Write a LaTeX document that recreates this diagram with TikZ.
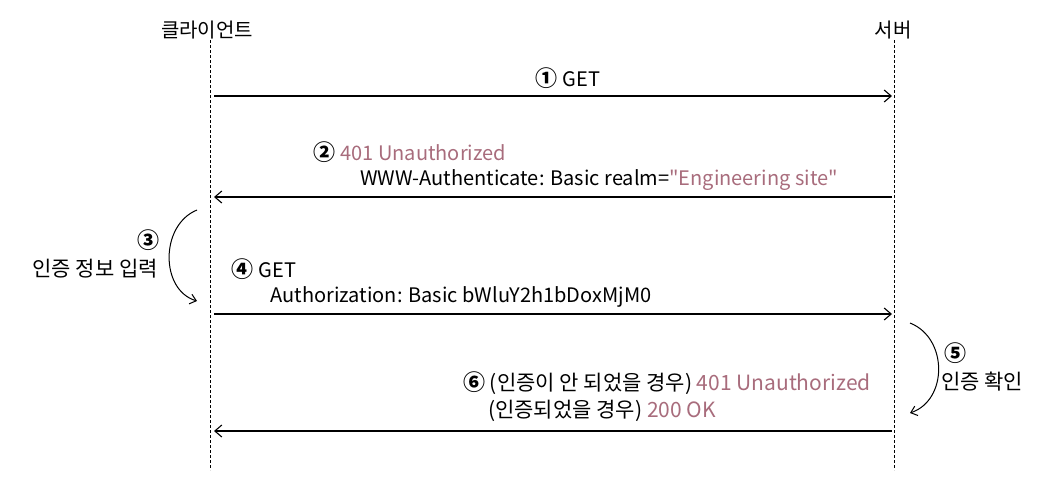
\documentclass[tikz,border=0pt]{standalone}
\usepackage{fontspec}
\setmainfont{Noto Sans CJK KR}[Ligatures=TeXOff]
\usetikzlibrary{arrows.meta}
\definecolor{pinkt}{RGB}{168,108,124}
\newcommand{\cn}[1]{{\fontsize{22}{24}\selectfont\bfseries #1}}
\begin{document}
\begin{tikzpicture}[x=1pt,y=-1pt,
  life/.style={line width=1pt,dash pattern=on 3pt off 2pt},
  msg/.style={line width=1.1pt,-{Straight Barb[length=7pt,width=12pt]}},
  lbl/.style={font=\fontsize{20}{24}\selectfont,inner sep=0pt},
  curv/.style={line width=1pt,-{Straight Barb[length=6pt,width=10pt]}}]
\useasboundingbox (0,0) rectangle (1064,498);
\node[lbl] (cl) at (207,30) {클라이언트};
\node[lbl] (sv) at (893,30) {서버};
\coordinate (ct) at (210,40); \coordinate (cb) at (210,470);
\coordinate (st) at (894,40); \coordinate (sb) at (894,470);
\draw[life] (ct) -- (cb);
\draw[life] (st) -- (sb);
% 1
\coordinate (a1s) at (214,96); \coordinate (a1e) at (892,96);
\draw[msg] (a1s) -- (a1e);
\node[lbl] (l1) at (568,78) {\cn{①} GET};
% 2
\coordinate (a2s) at (892,197); \coordinate (a2e) at (214,197);
\draw[msg] (a2s) -- (a2e);
\node[lbl] (l2a) at (410,152) {\cn{②} \textcolor{pinkt}{401 Unauthorized}};
\node[lbl] (l2b) at (599,180) {WWW-Authenticate: Basic realm=\textcolor{pinkt}{"Engineering site"}};
% 3
\coordinate (c3s) at (197,210); \coordinate (c3e) at (197,301);
\draw[curv] (c3s) .. controls (160,225) and (160,290) .. (c3e);
\node[lbl] (l3a) at (148,240) {\cn{③}};
\node[lbl,font=\fontsize{21}{24}\selectfont] (l3b) at (95,269) {인증 정보 입력};
% 4
\coordinate (a4s) at (214,314); \coordinate (a4e) at (892,314);
\draw[msg] (a4s) -- (a4e);
\node[lbl] (l4a) at (264,269) {\cn{④} GET};
\node[lbl] (l4b) at (461,297) {Authorization: Basic bWluY2h1bDoxMjM0};
% 5
\coordinate (c5s) at (910,323); \coordinate (c5e) at (910,413);
\draw[curv] (c5s) .. controls (948,338) and (948,400) .. (c5e);
\node[lbl] (l5a) at (955,353) {\cn{⑤}};
\node[lbl,font=\fontsize{21}{24}\selectfont] (l5b) at (982,382) {인증 확인};
% 6
\coordinate (a6s) at (892,431); \coordinate (a6e) at (214,431);
\draw[msg] (a6s) -- (a6e);
\node[lbl,font=\fontsize{21}{24}\selectfont] (l6a) at (667,383) {\cn{⑥} (인증이 안 되었을 경우) \textcolor{pinkt}{401 Unauthorized}};
\node[lbl,font=\fontsize{21}{24}\selectfont] (l6b) at (602,411) {(인증되었을 경우) \textcolor{pinkt}{200 OK}};
\end{tikzpicture}
\end{document}
